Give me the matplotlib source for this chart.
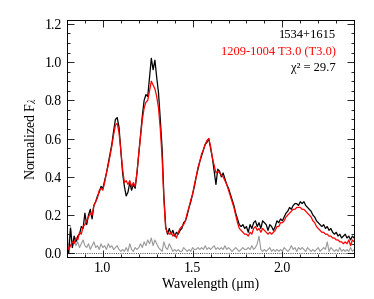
import numpy as np
import matplotlib
matplotlib.use('Agg')
import matplotlib.pyplot as plt
from matplotlib.ticker import MultipleLocator

# wavelength grid (micron)
wave = [
    0.80, 0.81, 0.82, 0.83, 0.84, 0.85, 0.86, 0.87, 0.88, 0.89,
    0.90, 0.91, 0.92, 0.93, 0.94, 0.95, 0.96, 0.97, 0.98, 0.99,
    1.00, 1.01, 1.02, 1.03, 1.04, 1.05, 1.06, 1.07, 1.08, 1.09,
    1.10, 1.11, 1.12, 1.13, 1.14, 1.15, 1.16, 1.17, 1.18, 1.19,
    1.20, 1.21, 1.22, 1.23, 1.24, 1.25, 1.26, 1.27, 1.28, 1.29,
    1.30, 1.31, 1.32, 1.33, 1.34, 1.35, 1.36, 1.37, 1.38, 1.39,
    1.40, 1.41, 1.42, 1.43, 1.44, 1.45, 1.46, 1.47, 1.48, 1.49,
    1.50, 1.51, 1.52, 1.53, 1.54, 1.55, 1.56, 1.57, 1.58, 1.59,
    1.60, 1.61, 1.62, 1.63, 1.64, 1.65, 1.66, 1.67, 1.68, 1.69,
    1.70, 1.71, 1.72, 1.73, 1.74, 1.75, 1.76, 1.77, 1.78, 1.79,
    1.80, 1.81, 1.82, 1.83, 1.84, 1.85, 1.86, 1.87, 1.88, 1.89,
    1.90, 1.91, 1.92, 1.93, 1.94, 1.95, 1.96, 1.97, 1.98, 1.99,
    2.00, 2.01, 2.02, 2.03, 2.04, 2.05, 2.06, 2.07, 2.08, 2.09,
    2.10, 2.11, 2.12, 2.13, 2.14, 2.15, 2.16, 2.17, 2.18, 2.19,
    2.20, 2.21, 2.22, 2.23, 2.24, 2.25, 2.26, 2.27, 2.28, 2.29,
    2.30, 2.31, 2.32, 2.33, 2.34, 2.35, 2.36, 2.37, 2.38, 2.39,
    2.40,
]

# 1534+1615 (black)
flux_obj = [
    0.03, 0.00, 0.13, 0.03, 0.09, 0.06, 0.09, 0.10, 0.14, 0.13,
    0.21, 0.15, 0.20, 0.23, 0.18, 0.25, 0.27, 0.30, 0.32, 0.35,
    0.34, 0.38, 0.42, 0.47, 0.52, 0.57, 0.64, 0.70, 0.71, 0.66,
    0.54, 0.42, 0.35, 0.30, 0.32, 0.37, 0.33, 0.36, 0.34, 0.42,
    0.52, 0.62, 0.72, 0.80, 0.83, 0.82, 0.92, 1.02, 0.96, 1.01,
    0.92, 0.84, 0.70, 0.55, 0.30, 0.14, 0.10, 0.13, 0.10, 0.12,
    0.09, 0.11, 0.10, 0.12, 0.13, 0.16, 0.17, 0.20, 0.24, 0.27,
    0.31, 0.35, 0.40, 0.44, 0.48, 0.51, 0.54, 0.57, 0.58, 0.60,
    0.55, 0.50, 0.43, 0.36, 0.44, 0.43, 0.40, 0.42, 0.39, 0.36,
    0.34, 0.31, 0.28, 0.25, 0.21, 0.18, 0.15, 0.14, 0.15, 0.13,
    0.14, 0.11, 0.15, 0.13, 0.16, 0.17, 0.14, 0.16, 0.13, 0.17,
    0.16, 0.15, 0.12, 0.15, 0.14, 0.12, 0.14, 0.17, 0.16, 0.18,
    0.17, 0.19, 0.21, 0.22, 0.24, 0.23, 0.25, 0.26, 0.26, 0.25,
    0.27, 0.26, 0.27, 0.25, 0.24, 0.23, 0.22, 0.20, 0.19, 0.17,
    0.16, 0.15, 0.14, 0.15, 0.13, 0.14, 0.12, 0.13, 0.11, 0.10,
    0.11, 0.09, 0.10, 0.08, 0.09, 0.10, 0.08, 0.09, 0.07, 0.09,
    0.08,
]

# 1209-1004 T3.0 template (red)
flux_std = [
    0.05, 0.02, 0.04, 0.06, 0.05, 0.08, 0.07, 0.11, 0.10, 0.14,
    0.15, 0.17, 0.19, 0.21, 0.20, 0.25, 0.27, 0.29, 0.33, 0.34,
    0.33, 0.37, 0.42, 0.46, 0.51, 0.56, 0.62, 0.67, 0.68, 0.63,
    0.54, 0.44, 0.37, 0.38, 0.36, 0.38, 0.35, 0.37, 0.35, 0.42,
    0.52, 0.61, 0.70, 0.76, 0.79, 0.80, 0.85, 0.90, 0.88, 0.86,
    0.82, 0.76, 0.65, 0.50, 0.28, 0.13, 0.11, 0.10, 0.11, 0.09,
    0.10, 0.08, 0.11, 0.13, 0.14, 0.15, 0.17, 0.21, 0.24, 0.28,
    0.31, 0.36, 0.40, 0.45, 0.48, 0.52, 0.54, 0.57, 0.59, 0.60,
    0.56, 0.50, 0.46, 0.42, 0.43, 0.42, 0.41, 0.40, 0.38, 0.36,
    0.33, 0.30, 0.27, 0.24, 0.20, 0.16, 0.13, 0.12, 0.11, 0.10,
    0.10, 0.09, 0.11, 0.10, 0.13, 0.14, 0.12, 0.13, 0.11, 0.13,
    0.12, 0.11, 0.10, 0.11, 0.10, 0.11, 0.12, 0.14, 0.14, 0.16,
    0.16, 0.17, 0.19, 0.20, 0.21, 0.22, 0.23, 0.23, 0.24, 0.24,
    0.24, 0.23, 0.23, 0.22, 0.21, 0.20, 0.19, 0.17, 0.16, 0.14,
    0.13, 0.12, 0.11, 0.11, 0.10, 0.10, 0.09, 0.09, 0.08, 0.08,
    0.07, 0.07, 0.06, 0.06, 0.05, 0.06, 0.05, 0.07, 0.04, 0.07,
    0.06,
]

# noise (gray)
noise = [
    0.02, 0.05, 0.14, 0.03, 0.07, 0.04, 0.06, 0.03, 0.05, 0.07,
    0.04, 0.03, 0.05, 0.02, 0.04, 0.06, 0.03, 0.04, 0.02, 0.05,
    0.03, 0.04, 0.02, 0.05, 0.03, 0.04, 0.02, 0.03, 0.04, 0.02,
    0.01, 0.02, 0.01, 0.03, 0.01, 0.05, 0.02, 0.01, 0.03, 0.02,
    0.03, 0.05, 0.03, 0.06, 0.04, 0.07, 0.05, 0.08, 0.04, 0.07,
    0.05, 0.03, 0.02, 0.01, 0.06, 0.03, 0.02, 0.05, 0.03, 0.01,
    0.02, 0.01, 0.02, 0.01, 0.01, 0.03, 0.02, 0.01, 0.02, 0.01,
    0.03, 0.02, 0.02, 0.03, 0.02, 0.03, 0.02, 0.04, 0.02, 0.03,
    0.02, 0.03, 0.04, 0.02, 0.03, 0.02, 0.03, 0.02, 0.04, 0.02,
    0.03, 0.02, 0.01, 0.02, 0.03, 0.02, 0.01, 0.02, 0.03, 0.02,
    0.02, 0.03, 0.02, 0.04, 0.02, 0.03, 0.05, 0.09, 0.02, 0.01,
    0.02, 0.01, 0.02, 0.03, 0.01, 0.02, 0.01, 0.02, 0.01, 0.02,
    0.01, 0.03, 0.02, 0.01, 0.02, 0.04, 0.02, 0.03, 0.01, 0.03,
    0.02, 0.03, 0.02, 0.01, 0.03, 0.02, 0.01, 0.02, 0.01, 0.02,
    0.03, 0.01, 0.02, 0.03, 0.02, 0.06, 0.01, 0.03, 0.02, 0.01,
    0.02, 0.01, 0.03, 0.01, 0.02, 0.01, 0.02, 0.01, 0.03, 0.01,
    0.02,
]

labels = ['1534+1615', '1209-1004 T3.0 (T3.0)', 'χ² = 29.7']
label_colors = ['black', 'red', 'black']

plt.rcParams['font.family'] = ['Liberation Serif', 'DejaVu Serif']
plt.rcParams['mathtext.fontset'] = 'stix'

fig = plt.figure(figsize=(3.74, 2.99), dpi=100)
ax = fig.add_axes([0.179, 0.140, 0.768, 0.793])

ax.plot(wave, noise, color='#999999', lw=0.8)
ax.plot(wave, flux_obj, color='black', lw=0.9)
ax.plot(wave, flux_std, color='red', lw=0.9)
ax.axhline(0.0, color='black', lw=0.6, ls=':')

ax.set_xlim(0.8, 2.4)
ax.set_ylim(-0.02, 1.22)
ax.xaxis.set_major_locator(MultipleLocator(0.5))
ax.xaxis.set_minor_locator(MultipleLocator(0.1))
ax.yaxis.set_major_locator(MultipleLocator(0.2))
ax.yaxis.set_minor_locator(MultipleLocator(0.05))
ax.xaxis.set_major_formatter(plt.FormatStrFormatter('%.1f'))
ax.yaxis.set_major_formatter(plt.FormatStrFormatter('%.1f'))
ax.tick_params(which='both', direction='in', top=True, right=True,
               labelsize=10, width=0.6)
ax.tick_params(which='major', length=5)
ax.tick_params(which='minor', length=2.5)
for sp in ax.spines.values():
    sp.set_linewidth(0.7)

ax.set_xlabel('Wavelength (μm)', fontsize=10, labelpad=2)
ax.set_ylabel(r'Normalized F$_\lambda$', fontsize=10, labelpad=4)

ys = [0.937, 0.865, 0.797]
for txt, c, y in zip(labels, label_colors, ys):
    ax.text(0.937, y, txt, color=c, fontsize=9, ha='right', va='center',
            transform=ax.transAxes)

fig.savefig('out.png', dpi=100)
